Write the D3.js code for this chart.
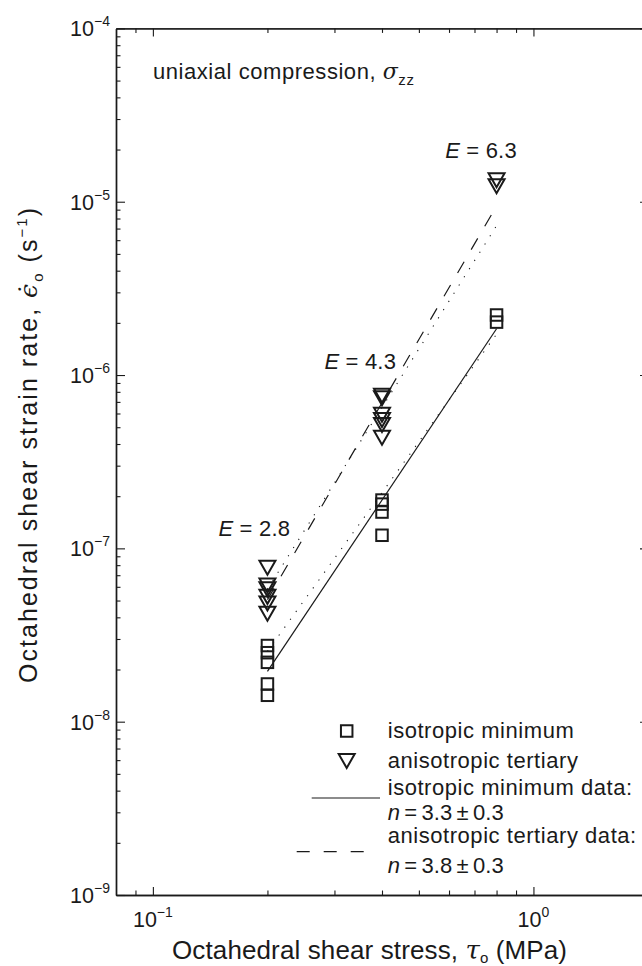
<!DOCTYPE html>
<html><head><meta charset="utf-8">
<script src="https://cdn.jsdelivr.net/npm/d3@7"></script>
<style>
body{margin:0;background:#fff}
svg{display:block}
text{font-family:"Liberation Sans",Arial,Helvetica,sans-serif;fill:#1a1a1a}
</style>
</head><body><svg id="c" width="642" height="966"></svg>
<script>
// ---------- data ----------
const isoStress   = [0.2, 0.2, 0.2, 0.2, 0.2, 0.4, 0.4, 0.4, 0.4, 0.8, 0.8];
const isoRate     = [2.75e-8, 2.5e-8, 2.2e-8, 1.65e-8, 1.42e-8, 1.9e-7, 1.8e-7, 1.62e-7, 1.19e-7, 2.22e-6, 2.02e-6];
const anisoStress = [0.2, 0.2, 0.2, 0.2, 0.2, 0.2, 0.4, 0.4, 0.4, 0.4, 0.4, 0.4, 0.8, 0.8];
const anisoRate   = [7.74e-8, 6.1e-8, 5.8e-8, 5.25e-8, 4.8e-8, 4.2e-8, 7.6e-7, 7.35e-7, 5.9e-7, 5.5e-7, 5.15e-7, 4.35e-7, 1.33e-5, 1.23e-5];
const fitStress   = [0.2, 0.8];
const isoFitRate    = [1.95e-8, 1.85e-6];   // solid, n = 3.3
const anisoFitRate  = [5.06e-8, 9.45e-6];   // dashed, n = 3.8
const isoDotRate    = [2.55e-8, 1.72e-6];   // dotted
const anisoDotRate  = [5.82e-8, 7.27e-6];   // dotted
const eLabels      = ["2.8", "4.3", "6.3"];
const eLabelStress = [0.2295, 0.4357, 0.9046];
const eLabelRate   = [1.18e-7, 1.09e-6, 1.78e-5];
const xMajorTicks = [0.1, 1];
const xMinorTicks = [0.09, 0.2, 0.3, 0.4, 0.5, 0.6, 0.7, 0.8, 0.9, 2];
const xTickExp    = ["\u22121", "0"];
const yMajorTicks = [1e-9, 1e-8, 1e-7, 1e-6, 1e-5, 1e-4];
const yTickExp    = ["\u22129", "\u22128", "\u22127", "\u22126", "\u22125", "\u22124"];
const yMinorTicks = [];
[-9,-8,-7,-6,-5].forEach(e => { for (let m = 2; m <= 9; m++) yMinorTicks.push(m * Math.pow(10, e)); });
const legendItems = ["isotropic minimum", "anisotropic tertiary", "isotropic minimum data:", "anisotropic tertiary data:"];
const legendN = ["3.3", "3.8"];

// ---------- layout ----------
const svg = d3.select("#c");
const L = 116, R = 648, T = 28.4, B = 895;
const x = d3.scaleLog().domain([0.08, 2]).range([L, R]);
const y = d3.scaleLog().domain([1e-9, 1e-4]).range([B, T]);
const ink = "#1a1a1a";

// axes (ticks inward)
function styleAxis(g){ g.selectAll("path").attr("stroke", ink).attr("stroke-width", 1.4);
  g.selectAll("line").attr("stroke", ink).attr("stroke-width", 1.1); g.selectAll("text").remove(); }
svg.append("g").attr("transform", `translate(0,${B})`)
  .call(d3.axisBottom(x).tickValues(xMajorTicks).tickSize(-8).tickSizeOuter(0).tickFormat("")).call(styleAxis);
svg.append("g").attr("transform", `translate(0,${B})`)
  .call(d3.axisBottom(x).tickValues(xMinorTicks).tickSize(-4.5).tickSizeOuter(0).tickFormat("")).call(styleAxis);
svg.append("g").attr("transform", `translate(0,${T})`)
  .call(d3.axisTop(x).tickValues(xMajorTicks).tickSize(-8).tickSizeOuter(0).tickFormat("")).call(styleAxis);
svg.append("g").attr("transform", `translate(0,${T})`)
  .call(d3.axisTop(x).tickValues(xMinorTicks).tickSize(-4.5).tickSizeOuter(0).tickFormat("")).call(styleAxis);
svg.append("g").attr("transform", `translate(${L},0)`)
  .call(d3.axisLeft(y).tickValues(yMajorTicks).tickSize(-9).tickSizeOuter(0).tickFormat("")).call(styleAxis);
svg.append("g").attr("transform", `translate(${L},0)`)
  .call(d3.axisLeft(y).tickValues(yMinorTicks).tickSize(-4.5).tickSizeOuter(0).tickFormat("")).call(styleAxis);
svg.append("g").attr("transform", `translate(${R},0)`)
  .call(d3.axisRight(y).tickValues(yMajorTicks).tickSize(-8).tickSizeOuter(0).tickFormat("")).call(styleAxis);
svg.append("g").attr("transform", `translate(${R},0)`)
  .call(d3.axisRight(y).tickValues(yMinorTicks).tickSize(-4.5).tickSizeOuter(0).tickFormat("")).call(styleAxis);

// tick labels
yMajorTicks.forEach((v, i) => {
  const t = svg.append("text").attr("x", 110).attr("y", y(v) + 8).attr("text-anchor", "end").attr("font-size", 21.5);
  t.append("tspan").text("10");
  t.append("tspan").attr("font-size", 14).attr("dy", -10).text(yTickExp[i]);
});
xMajorTicks.forEach((v, i) => {
  const t = svg.append("text").attr("x", x(v)).attr("y", B + 32).attr("text-anchor", "middle").attr("font-size", 21.5);
  t.append("tspan").text("10");
  t.append("tspan").attr("font-size", 14).attr("dy", -10).text(xTickExp[i]);
});

// axis titles
const xt = svg.append("text").attr("x", 172).attr("y", 959).attr("font-size", 26)
  .attr("textLength", 395).attr("lengthAdjust", "spacing");
xt.append("tspan").text("Octahedral shear stress, ");
xt.append("tspan").attr("font-family", "DejaVu Serif").attr("font-style", "italic").text("\u03C4");
xt.append("tspan").attr("font-size", 15).attr("dy", 4).text("o");
xt.append("tspan").attr("dy", -4).text(" (MPa)");

const yt = svg.append("text").attr("transform", "translate(37,683) rotate(-90)").attr("font-size", 25)
  .attr("textLength", 475).attr("lengthAdjust", "spacing");
yt.append("tspan").text("Octahedral shear strain rate, ");
yt.append("tspan").attr("font-family", "DejaVu Serif").attr("font-style", "italic").text("\u03F5\u0307");
yt.append("tspan").attr("font-size", 15).attr("dy", 6).text("o");
yt.append("tspan").attr("dy", -6).text(" (s");
yt.append("tspan").attr("font-size", 15).attr("dy", -10).text("\u22121");
yt.append("tspan").attr("dy", 10).text(")");

// annotation
const an = svg.append("text").attr("x", 153).attr("y", 79).attr("font-size", 22).attr("letter-spacing", 0.55);
an.append("tspan").text("uniaxial compression, ");
an.append("tspan").attr("font-family", "DejaVu Serif").attr("font-style", "italic").text("\u03C3");
an.append("tspan").attr("font-size", 15).attr("dy", 6).text("zz");

// fit lines
const line = d3.line().x(d => x(d[0])).y(d => y(d[1]));
const mk = (rates) => fitStress.map((s, i) => [s, rates[i]]);
svg.append("path").datum(mk(isoDotRate)).attr("d", line).attr("fill", "none").attr("stroke", ink)
  .attr("stroke-width", 1.1).attr("stroke-dasharray", "1.2,8.5");
svg.append("path").datum(mk(anisoDotRate)).attr("d", line).attr("fill", "none").attr("stroke", ink)
  .attr("stroke-width", 1.1).attr("stroke-dasharray", "1.2,8.5");
svg.append("path").datum(mk(isoFitRate)).attr("d", line).attr("fill", "none").attr("stroke", ink).attr("stroke-width", 1.2);
svg.append("path").datum(mk(anisoFitRate)).attr("d", line).attr("fill", "none").attr("stroke", ink)
  .attr("stroke-width", 1.2).attr("stroke-dasharray", "13,14");

// markers
const sq = 11.5, tw = 16, th = 14;
const triPath = `M${-tw/2},${-th/2}L${tw/2},${-th/2}L0,${th/2}Z`;
svg.append("g").selectAll("rect").data(isoStress.map((s, i) => [s, isoRate[i]])).join("rect")
  .attr("x", d => x(d[0]) - sq/2).attr("y", d => y(d[1]) - sq/2).attr("width", sq).attr("height", sq)
  .attr("fill", "none").attr("stroke", ink).attr("stroke-width", 2);
svg.append("g").selectAll("path").data(anisoStress.map((s, i) => [s, anisoRate[i]])).join("path")
  .attr("transform", d => `translate(${x(d[0])},${y(d[1])})`).attr("d", triPath)
  .attr("fill", "none").attr("stroke", ink).attr("stroke-width", 2).attr("stroke-linejoin", "miter");

// E labels
eLabels.forEach((v, i) => {
  const t = svg.append("text").attr("x", x(eLabelStress[i])).attr("y", y(eLabelRate[i])).attr("text-anchor", "end")
    .attr("font-size", 22).attr("letter-spacing", 0.2);
  t.append("tspan").attr("font-style", "italic").text("E");
  t.append("tspan").text(" = " + v);
});

// legend
const lg = svg.append("g");
lg.append("rect").attr("x", 346.7 - sq/2).attr("y", 731 - sq/2).attr("width", sq).attr("height", sq)
  .attr("fill", "none").attr("stroke", ink).attr("stroke-width", 2);
lg.append("path").attr("transform", "translate(346.7,761)").attr("d", triPath)
  .attr("fill", "none").attr("stroke", ink).attr("stroke-width", 2);
lg.append("line").attr("x1", 311.7).attr("x2", 380).attr("y1", 798).attr("y2", 798).attr("stroke", ink).attr("stroke-width", 1.2);
lg.append("line").attr("x1", 296.7).attr("x2", 365).attr("y1", 851.7).attr("y2", 851.7).attr("stroke", ink)
  .attr("stroke-width", 1.2).attr("stroke-dasharray", "13,14");
const lgText = [[legendItems[0], 738], [legendItems[1], 768], [legendItems[2], 795], [legendItems[3], 843]];
lgText.forEach(d => lg.append("text").attr("x", 387.7).attr("y", d[1]).attr("font-size", 22)
  .attr("letter-spacing", 0.55).text(d[0]));
[[legendN[0], 820], [legendN[1], 873]].forEach(d => {
  const t = lg.append("text").attr("x", 387.7).attr("y", d[1]).attr("font-size", 22);
  t.append("tspan").attr("font-style", "italic").text("n");
  t.append("tspan").text("\u2009=\u2009" + d[0] + "\u2009\u00B1\u20090.3");
});
</script>
</body></html>
